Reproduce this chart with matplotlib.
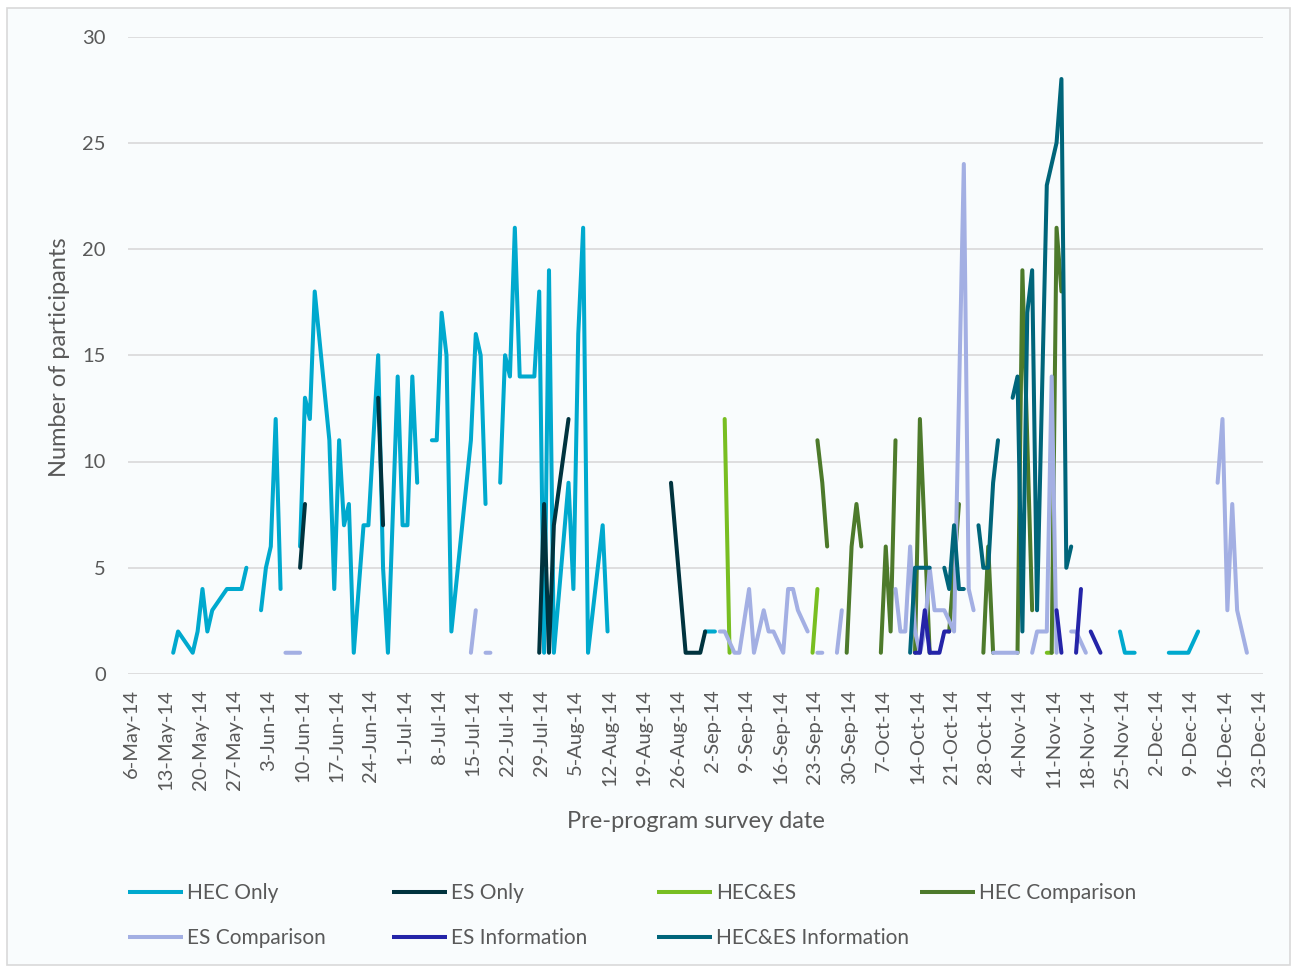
import numpy as np
import matplotlib
matplotlib.use("Agg")
import matplotlib.pyplot as plt
import matplotlib.dates as mdates
from matplotlib.lines import Line2D
from matplotlib.patches import Rectangle
from datetime import datetime

plt.rcParams['font.family'] = ['Lato', 'DejaVu Sans']

# ---------------- data (dates are d-Mon of 2014; None = break in the line) ----------------
hec_only_dates = ['14-May', '15-May', '18-May', '19-May', '20-May', '21-May', '22-May', '25-May', '28-May', '29-May', None,
                  '1-Jun', '2-Jun', '3-Jun', '4-Jun', '5-Jun', None,
                  '9-Jun', '10-Jun', '11-Jun', '12-Jun', '15-Jun', '16-Jun', '17-Jun', '18-Jun', '19-Jun', '20-Jun',
                  '22-Jun', '23-Jun', '25-Jun', '26-Jun', '27-Jun', '29-Jun', '30-Jun', '1-Jul', '2-Jul', '3-Jul', None,
                  '6-Jul', '7-Jul', '8-Jul', '9-Jul', '10-Jul', '14-Jul', '15-Jul', '16-Jul', '17-Jul', None,
                  '20-Jul', '21-Jul', '22-Jul', '23-Jul', '24-Jul', '27-Jul', '28-Jul', '29-Jul', '30-Jul', '31-Jul',
                  '3-Aug', '4-Aug', '5-Aug', '6-Aug', '7-Aug', '10-Aug', '11-Aug', None,
                  '31-Aug', '1-Sep', '2-Sep', None,
                  '24-Nov', '25-Nov', '27-Nov', None,
                  '4-Dec', '8-Dec', '10-Dec']
hec_only_vals = [1, 2, 1, 2, 4, 2, 3, 4, 4, 5, None,
                 3, 5, 6, 12, 4, None,
                 6, 13, 12, 18, 11, 4, 11, 7, 8, 1,
                 7, 7, 15, 5, 1, 14, 7, 7, 14, 9, None,
                 11, 11, 17, 15, 2, 11, 16, 15, 8, None,
                 9, 15, 14, 21, 14, 14, 18, 1, 19, 1,
                 9, 4, 16, 21, 1, 7, 2, None,
                 2, 2, 2, None,
                 2, 1, 1, None,
                 1, 1, 2]

es_only_dates = ['9-Jun', '10-Jun', None,
                 '25-Jun', '26-Jun', None,
                 '28-Jul', '29-Jul', '30-Jul', '31-Jul', '3-Aug', None,
                 '24-Aug', '27-Aug', '30-Aug', '31-Aug']
es_only_vals = [5, 8, None,
                13, 7, None,
                1, 8, 1, 7, 12, None,
                9, 1, 1, 2]

hec_es_dates = ['4-Sep', '5-Sep', None, '22-Sep', '23-Sep', None, '9-Nov', '10-Nov']
hec_es_vals = [12, 1, None, 1, 4, None, 1, 1]

hec_comp_dates = ['23-Sep', '24-Sep', '25-Sep', None,
                  '29-Sep', '30-Sep', '1-Oct', '2-Oct', None,
                  '6-Oct', '7-Oct', '8-Oct', '9-Oct', None,
                  '13-Oct', '14-Oct', '16-Oct', None,
                  '20-Oct', '22-Oct', None,
                  '27-Oct', '28-Oct', '29-Oct', None,
                  '3-Nov', '4-Nov', '6-Nov', None,
                  '10-Nov', '11-Nov', '12-Nov']
hec_comp_vals = [11, 9, 6, None,
                 1, 6, 8, 6, None,
                 1, 6, 2, 11, None,
                 1, 12, 1, None,
                 2, 8, None,
                 1, 6, 1, None,
                 1, 19, 3, None,
                 1, 21, 18]

es_comp_dates = ['6-Jun', '9-Jun', None,
                 '14-Jul', '15-Jul', None,
                 '17-Jul', '18-Jul', None,
                 '3-Sep', '4-Sep', '6-Sep', '7-Sep', '9-Sep', '10-Sep', '12-Sep', '13-Sep', '14-Sep', '16-Sep',
                 '17-Sep', '18-Sep', '19-Sep', '21-Sep', None,
                 '23-Sep', '24-Sep', None,
                 '27-Sep', '28-Sep', None,
                 '9-Oct', '10-Oct', '11-Oct', '12-Oct', '13-Oct', '14-Oct', '15-Oct', '16-Oct', '17-Oct', '19-Oct',
                 '21-Oct', '23-Oct', '24-Oct', '25-Oct', None,
                 '29-Oct', '3-Nov', None,
                 '6-Nov', '7-Nov', '9-Nov', '10-Nov', '11-Nov', None,
                 '14-Nov', '15-Nov', '17-Nov', None,
                 '14-Dec', '15-Dec', '16-Dec', '17-Dec', '18-Dec', '20-Dec']
es_comp_vals = [1, 1, None,
                1, 3, None,
                1, 1, None,
                2, 2, 1, 1, 4, 1, 3, 2, 2, 1,
                4, 4, 3, 2, None,
                1, 1, None,
                1, 3, None,
                4, 2, 2, 6, 2, 1, 2, 5, 3, 3,
                2, 24, 4, 3, None,
                1, 1, None,
                1, 2, 2, 14, 1, None,
                2, 2, 1, None,
                9, 12, 3, 8, 3, 1]

es_info_dates = ['13-Oct', '14-Oct', '15-Oct', '16-Oct', '18-Oct', '19-Oct', '20-Oct', None,
                 '11-Nov', '12-Nov', None,
                 '15-Nov', '16-Nov', None,
                 '18-Nov', '20-Nov']
es_info_vals = [1, 1, 3, 1, 1, 2, 2, None,
                3, 1, None,
                1, 4, None,
                2, 1]

hec_es_info_dates = ['12-Oct', '13-Oct', '16-Oct', None,
                     '19-Oct', '20-Oct', '21-Oct', '22-Oct', '23-Oct', None,
                     '26-Oct', '27-Oct', '28-Oct', '29-Oct', '30-Oct', None,
                     '2-Nov', '3-Nov', '4-Nov', '5-Nov', '6-Nov', '7-Nov', '9-Nov', '11-Nov', '12-Nov',
                     '13-Nov', '14-Nov']
hec_es_info_vals = [1, 5, 5, None,
                    5, 4, 7, 4, 4, None,
                    7, 5, 5, 9, 11, None,
                    13, 14, 2, 17, 19, 3, 23, 25, 28,
                    5, 6]

series_names = ['HEC Only', 'ES Only', 'HEC&ES', 'HEC Comparison',
                'ES Comparison', 'ES Information', 'HEC&ES Information']
series_dates = [hec_only_dates, es_only_dates, hec_es_dates, hec_comp_dates,
                es_comp_dates, es_info_dates, hec_es_info_dates]
series_vals = [hec_only_vals, es_only_vals, hec_es_vals, hec_comp_vals,
               es_comp_vals, es_info_vals, hec_es_info_vals]
series_colors = ['#00A9CE', '#00333E', '#78BE21', '#4D7A2B',
                 '#A3AFE3', '#2424A8', '#00657A']

tick_start = '6-May'
tick_end = '23-Dec'
y_ticks = [0, 5, 10, 15, 20, 25, 30]

# ---------------- helpers ----------------
def to_num(s):
    return mdates.date2num(datetime.strptime(s + '-2014', '%d-%b-%Y'))

W, H = 1293, 968
fig = plt.figure(figsize=(W / 100, H / 100), dpi=100)
fig.patch.set_facecolor('white')
fig.add_artist(Rectangle((7 / W, 1 - 965 / H), 1283 / W, 957 / H, transform=fig.transFigure,
                         facecolor='#F9FCFD', edgecolor='#D9D9D9', lw=1.2, zorder=-10))

left, right, top, bottom = 128, 1263, 36.5, 674
ax = fig.add_axes([left / W, 1 - bottom / H, (right - left) / W, (bottom - top) / H])
ax.set_facecolor('none')

lw = 2.9
handles = []
for name, dts, vals, col in zip(series_names, series_dates, series_vals, series_colors):
    x = np.array([to_num(d) + 0.5 if d is not None else np.nan for d in dts])
    y = np.array([v if v is not None else np.nan for v in vals], dtype=float)
    ln, = ax.plot(x, y, color=col, lw=lw, solid_capstyle='round', solid_joinstyle='round', label=name)
    handles.append(ln)

x0 = to_num(tick_start)
x1 = to_num(tick_end)
ax.set_xlim(x0 - 0.76, x0 + 231.8)
ax.set_ylim(0, 30)
ticks = np.arange(x0, x1 + 1, 7)
ax.set_xticks(ticks)
ax.set_xticklabels([mdates.num2date(t).strftime('%-d-%b-%y') for t in ticks], rotation=90)
ax.set_yticks(y_ticks)

txt_col = '#595959'
ax.tick_params(axis='x', length=0, pad=11, labelsize=14.5, labelcolor=txt_col)
ax.tick_params(axis='y', length=0, pad=16, labelsize=14.5, labelcolor=txt_col)
for s in ax.spines.values():
    s.set_visible(False)
ax.grid(axis='y', color='#D9D9D9', lw=1.2)
ax.set_axisbelow(True)

ax.set_ylabel('Number of participants', fontsize=17, color=txt_col)
ax.yaxis.set_label_coords((59 - left) / (right - left), (bottom - 357) / (bottom - top))
ax.yaxis.label.set_va('center')
ax.set_xlabel('Pre-program survey date', fontsize=17, color=txt_col)
ax.xaxis.set_label_coords(0.5, (bottom - 822) / (bottom - top))
ax.xaxis.label.set_va('center')

# legend: 4 columns x 2 rows with equal column spacing
leg_fs = 15
fs_px = leg_fs * 100 / 72
col_x = [128, 392, 657, 920]
row_y = [893, 938]
for i, h in enumerate(handles):
    r, c = divmod(i, 4)
    fig.legend(handles=[Line2D([], [], color=h.get_color(), lw=lw, solid_capstyle='butt')],
               labels=[h.get_label()], loc='center left',
               bbox_to_anchor=(col_x[c] / W, 1 - row_y[r] / H), frameon=False,
               handlelength=55 / fs_px, handletextpad=4 / fs_px, borderpad=0, borderaxespad=0,
               fontsize=leg_fs, labelcolor=txt_col)

fig.savefig('out.png', dpi=100, facecolor=fig.get_facecolor())
